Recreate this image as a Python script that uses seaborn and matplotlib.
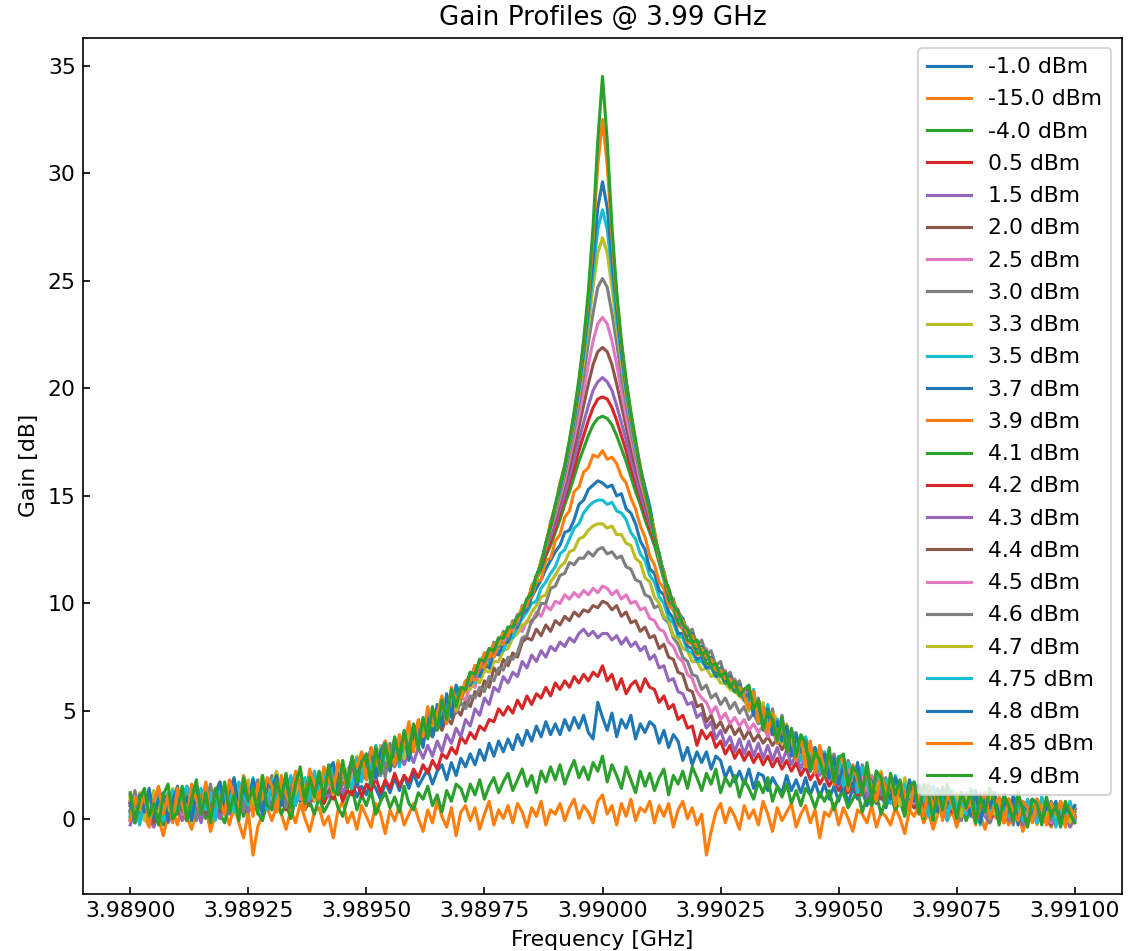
import numpy as np
import matplotlib
matplotlib.use("Agg")
import matplotlib.pyplot as plt
from matplotlib.ticker import FixedLocator, FormatStrFormatter
import seaborn as sns

# ---------------------------------------------------------------------------
# Frequency sweep (GHz): 201 points, 3.98900 .. 3.99100
freq_start_ghz = 3.98900
freq_stop_ghz = 3.99100
n_points = 201

x_ticks = [3.98900, 3.98925, 3.98950, 3.98975, 3.99000,
           3.99025, 3.99050, 3.99075, 3.99100]

# Gain values, in tenths of a dB (left -> right)
gain_m1p0 = [
 7,1,5,9,2,8,3,10,6,1, 9,4,2,8,6,10,3,7,11,5, 2,9,4,10,6,3,11,8,5,12, 4,10,7,13,5,11,8,14,6,12,
 15,7,13,10,16,9,14,17,10,15, 11,18,14,9,17,12,19,13,20,14, 21,15,19,23,16,22,25,18,26,20,
 28,24,30,25,32,27,35,29,36,31, 37,32,39,34,41,36,43,38,45,39, 44,39,46,41,47,42,48,40,37,54,
 47,
 41,49,38,46,42,48,37,44,40,45, 43,35,41,33,39,36,27,33,25,31, 26,31,23,29,27,19,24,17,22,16,
 23,14,21,20,13,19,15,12,20,13, 18,12,19,11,17,10,16,9,15,8, 16,7,14,9,13,6,14,7,12,5,
 12,6,13,4,11,5,12,3,10,4, 11,3,9,2,10,4,8,1,9,2, 8,1,7,2,8,0,6,1,7,-1, 6,0,5,1,6,-2,4,0,5,-1]

gain_m15p0 = [
 3,-2,5,1,-4,6,0,-8,2,4, -3,7,1,-5,3,-1,5,-6,2,0, 4,-3,6,-2,-9,3,-17,-4,2,5, -1,6,2,-5,4,-2,7,0,-6,3,
 5,-3,1,-9,4,8,-2,3,-5,6, 1,-4,7,2,-7,4,-1,6,-3,2, 7,0,-6,4,-2,8,1,-4,5,-8,
 3,6,-1,5,-5,2,8,-3,4,0, 6,-2,7,3,-4,5,1,8,-3,4, 2,7,-1,5,9,0,6,3,-2,8,
 11,
 2,6,-3,7,1,9,-1,5,3,8, -2,6,1,7,-4,4,8,0,5,-3, 2,-17,-6,3,7,-2,5,1,-5,6,
 0,4,-3,8,2,-6,5,-1,3,7, -4,2,6,-2,4,-9,3,1,7,-3, 5,0,-6,4,2,-2,6,-4,3,1,
 -3,5,0,-7,4,1,6,-2,3,-5, 2,5,-1,4,-4,3,0,6,-2,2, -5,3,1,-1,5,-3,2,4,-6,1, 3,-2,5,0,-4,2,6,-1,1,4]

gain_m4p0 = [
 0,7,-2,5,9,1,6,-3,8,3, 10,2,-1,7,4,11,0,6,9,2, -2,8,4,10,1,7,12,3,-1,8, 5,11,2,7,0,9,13,4,8,2,
 10,3,7,12,5,1,9,14,4,11, 6,13,2,8,12,5,10,3,15,7, 4,12,9,15,6,11,3,13,8,16,
 14,8,16,11,18,9,15,19,12,17, 21,13,18,23,15,20,12,22,17,24, 18,25,16,22,27,19,24,18,26,22,
 29,
 17,25,20,14,24,18,12,22,15,21, 13,19,23,11,20,16,22,14,24,19, 13,21,16,23,12,19,15,20,10,18,
 14,9,17,12,19,8,15,10,16,7, 13,6,14,11,5,12,8,13,4,10, 12,5,9,13,3,10,6,11,2,9,
 11,4,8,1,10,5,7,0,9,3, 8,1,6,10,2,7,-1,5,8,0, 6,-2,5,8,1,4,-1,7,2,0, 5,-2,3,6,-1,4,1,-3,3,0]

gain_0p5 = [
 8,1,6,3,9,2,7,4,10,3, 8,5,2,9,6,11,3,8,4,10, 7,12,5,9,3,10,6,11,4,8, 12,6,9,4,11,7,13,5,10,8,
 14,7,12,9,15,8,13,11,17,10, 16,13,19,12,18,14,21,15,20,17, 23,19,25,21,27,23,30,28,33,30,
 38,35,40,37,43,41,46,45,51,48, 52,49,55,51,57,53,58,56,61,57, 63,60,64,61,66,63,67,64,68,66,
 71,
 64,67,60,65,58,62,64,59,65,61, 60,54,57,51,53,46,48,42,43,34, 41,37,40,33,36,30,34,28,32,27,
 31,26,30,25,29,24,28,23,27,22, 26,20,24,18,22,16,20,15,19,13, 18,12,17,11,16,10,15,9,14,8,
 13,7,12,6,13,5,11,6,10,4, 11,5,9,3,10,4,8,2,9,3, 8,2,7,1,8,2,6,0,7,1, 6,0,7,1,5,-1,6,0,5,1]

gain_1p5 = [
 -3,4,-1,6,0,-4,3,5,-2,2, 7,-1,4,1,6,-2,8,3,5,0, 9,2,6,4,10,3,7,9,5,11, 6,4,10,8,12,7,13,9,8,14,
 12,15,10,16,18,12,17,20,15,22, 19,23,18,24,21,
 29,24,30,25,31,26,33,28,34,29, 36,31,39,35,42,38,46,43,51,48, 56,53,61,59,66,63,68,66,73,70,
 76,73,78,75,80,78,82,80,84,82, 86,88,85,87,84,
 86,
 86,83,85,81,84,80,82,78,80,74, 76,70,71,64,65,59,58,53,54,47, 49,42,45,37,41,34,38,31,37,30,
 36,29,35,28,34,27,33,26,32,25, 30,23,29,22,27,
 20,25,18,23,15,21,14,19,12,17, 10,16,9,15,7,13,8,12,5,11, 9,4,10,6,2,7,5,1,6,3,
 0,5,2,-1,4,1,-2,3,0,5, -1,2,4,-3,1,3,-2,2,0,-3, 2,-1,1,-4,0]

gain_2p0 = [
 -1,5,0,7,3,-2,6,1,4,8, 2,6,-1,7,4,9,2,5,8,3, 7,10,4,8,3,9,6,11,5,8, 12,7,10,5,13,9,11,8,14,10,
 9,15,12,17,13,16,20,15,19,22, 18,24,21,20,26,23,29,25,32,29,
 33,38,36,41,38,45,41,47,44,51, 48,55,52,59,57,64,61,70,67,74, 71,77,75,82,84,83,88,85,90,87,
 92,90,94,92,96,94,97,96,99,98,
 101,
 100,97,99,94,96,91,92,87,89,84, 85,79,81,75,74,68,67,60,59,52, 53,45,48,42,45,40,44,39,42,37,
 41,36,39,35,38,34,37,32,36,31,
 28,33,26,30,22,27,20,25,18,23, 16,21,14,19,12,17,11,16,9,14, 13,8,12,7,13,6,11,5,10,4,
 9,2,8,3,7,1,6,2,5,0, 6,-1,4,3,-2,5,1,2,-1,4, 3,-2,2,4,-3,3,0,2,-2,1]

gain_2p5 = [
 6,0,7,2,5,8,1,3,9,4, 7,2,8,5,10,3,6,9,4,8, 11,5,7,10,4,12,8,6,11,9, 13,7,10,12,8,14,9,13,11,15,
 12,17,14,13,19,16,18,22,17,23, 21,19,25,22,27,24,30,27,33,30,
 38,35,41,40,45,43,49,46,52,50, 57,55,62,61,69,68,75,76,82,80, 85,84,88,87,92,91,96,94,99,97,
 101,100,104,102,105,103,106,104,107,105,
 108,
 107,104,106,102,104,100,101,97,98,93, 92,88,87,82,80,75,73,67,65,59, 56,54,49,52,46,49,44,47,43,46,
 41,44,40,43,38,41,35,38,33,36,
 35,28,33,25,29,22,27,20,25,18, 23,16,21,15,19,13,18,11,17,10, 15,9,14,8,14,7,13,6,12,5,
 10,4,9,3,10,2,8,6,3,9, 2,7,5,1,8,4,0,7,3,6, -1,5,2,4,-2,6,1,3,0,4]

gain_3p0 = [
 1,8,3,6,9,2,7,4,10,6, 3,9,5,11,7,4,10,8,5,12, 7,10,4,11,8,13,6,9,12,7, 14,8,11,13,9,15,12,10,16,11,
 17,13,15,18,14,20,16,21,19,24, 20,25,23,28,26,25,32,28,34,31,
 37,34,40,39,44,42,47,45,51,49, 54,51,57,56,61,59,66,64,70,69, 75,74,77,84,85,92,94,100,100,107,
 108,113,114,119,118,121,121,124,122,125,
 126,
 123,124,121,122,117,116,111,110,104,103, 98,99,93,91,84,81,75,73,67,66, 60,62,56,58,53,56,51,54,49,52,
 46,49,44,47,41,44,38,41,35,37,
 30,35,27,31,25,29,22,27,20,24, 18,23,17,21,14,19,13,18,11,16, 10,15,9,14,8,13,7,14,12,7,
 11,4,9,10,3,8,6,4,9,3, 8,2,7,5,1,9,4,2,7,3, 6,0,5,4,-1,6,2,3,5,0]

gain_3p3 = [
 10,5,8,3,7,11,4,6,9,2, 8,11,5,9,7,12,10,4,9,13, 7,11,9,6,13,10,12,8,11,14, 9,13,10,15,11,9,14,12,15,11,
 16,13,18,14,19,16,17,22,19,23, 20,25,23,24,28,25,29,30,28,33, 35,34,40,38,42,43,47,46,51,52,
 55,60,60,65,63,69,68,73,73,78, 79,84,86,90,91,96,99,103,104,110, 113,117,119,124,125,130,131,134,136,137,
 137,
 135,136,132,132,128,127,121,119,112,110, 103,100,94,92,85,84,79,78,73,73, 69,70,66,67,63,63,60,59,57,55,
 51,55,47,48,43,44,38,40,36,33, 34,30,31,26,29,25,23,27,21,22, 19,22,17,20,15,18,17,13,16,12,
 15,11,14,9,13,10,12,8,11,8, 9,5,8,7,4,9,6,3,8,5, 7,4,6,2,7,5,3,6,1,5, 4,2,5,0,4,3,1,5,2,0]

gain_3p5 = [
 2,8,5,11,7,4,9,6,12,8, 5,10,7,13,9,6,11,14,8,10, 12,9,14,7,11,13,10,15,9,13, 11,14,9,12,16,13,17,11,15,13,
 17,14,19,17,15,20,23,18,22,25, 21,27,24,26,30,28,29,34,32,35, 37,40,38,45,42,47,50,48,55,54,
 59,61,64,63,70,70,73,75,78,78, 83,84,89,93,96,100,101,107,110,114, 117,123,125,130,135,137,142,145,147,148,
 148,
 146,147,143,142,139,133,130,123,120,113, 110,103,100,93,91,85,84,78,77,73, 73,70,70,66,67,63,64,59,60,56,
 58,50,52,51,44,47,40,43,37,38, 35,30,33,31,26,30,24,27,25,20, 23,21,17,22,16,20,14,19,12,17,
 15,14,10,16,11,12,15,8,13,10, 8,11,6,9,10,5,8,9,4,7, 10,5,6,8,3,9,4,5,7,2, 6,5,1,7,2,5,4,0,5,3]

gain_3p7 = [
 6,11,4,8,2,9,7,10,5,3, 9,6,11,8,12,7,5,10,8,12, 10,6,13,9,12,8,14,10,7,12, 15,9,13,11,15,10,14,12,16,18,
 12,17,14,18,16,20,21,18,24,21, 24,21,28,25,27,31,28,33,34,31, 38,36,42,39,46,43,48,53,50,57,
 56,62,62,67,66,72,70,77,76,82, 82,88,89,95,97,103,107,111,116,120, 124,127,133,134,139,146,148,153,155,157,
 156,
 154,155,150,151,144,142,137,129,125,116, 114,106,104,96,93,86,86,80,79,74, 75,70,71,66,68,63,64,59,61,55,
 53,55,48,51,43,46,43,37,41,37, 33,34,29,33,26,29,27,22,26,23, 21,23,17,21,19,15,20,13,18,14,
 13,17,11,15,9,14,12,11,14,7, 10,8,5,10,9,4,10,6,8,5, 9,3,7,6,4,8,2,7,6,3, 7,2,4,6,1,6,3,5,0,4]

gain_3p9 = [
 9,4,7,2,10,6,5,11,3,8, 10,7,12,5,8,4,11,9,13,7, 6,12,8,14,10,11,7,13,9,14, 10,13,16,8,12,15,11,16,13,11,
 16,14,18,21,16,19,17,23,20,24, 22,26,24,27,31,26,30,33,30,36, 34,39,43,41,43,47,50,49,54,55,
 60,59,66,64,72,70,77,75,81,81, 88,87,94,95,102,103,110,111,120,121, 129,132,140,143,152,154,161,163,169,168,
 171,
 167,168,165,159,156,149,144,136,131,122, 118,110,107,99,97,90,88,82,81,76, 77,72,72,68,69,64,65,60,61,56,
 55,52,53,47,47,44,41,42,38,35, 36,32,30,32,27,29,26,23,26,21, 23,22,18,21,15,18,19,14,17,12,
 15,13,16,11,14,10,15,9,12,10, 7,10,8,6,11,5,9,8,4,9, 8,4,9,5,3,8,6,2,7,5, 6,1,6,4,2,6,5,1,4,3]

gain_4p1 = [
 3,9,6,10,4,7,1,8,11,5, 9,12,6,4,10,8,14,9,6,11, 13,7,12,10,6,14,9,11,15,8, 12,16,10,13,8,14,17,11,13,18,
 13,16,20,15,18,23,17,21,25,19, 24,27,22,29,25,32,28,35,31,35, 38,39,42,38,47,45,47,54,51,55,
 59,62,67,68,73,75,78,80,82,85, 87,90,93,97,101,106,111,116,122,127, 133,139,146,152,159,166,172,178,183,186,
 187,
 186,183,178,172,166,159,152,146,139,133, 127,119,111,102,98,91,89,83,82,77, 77,72,72,67,67,63,63,59,60,56,
 54,56,49,48,47,42,44,39,40,34, 36,32,31,30,29,25,27,24,26,20, 24,19,22,18,19,17,15,18,14,15,
 16,11,16,12,10,14,13,9,14,7, 9,10,6,11,7,8,9,4,9,6, 5,9,4,8,6,3,7,5,4,8, 3,6,2,7,3,4,6,1,5,2]

gain_4p2 = [
 7,3,9,5,2,8,11,6,4,10, 6,12,9,3,8,11,7,10,4,13, 8,10,13,7,11,9,14,12,8,10, 14,11,9,15,12,10,16,13,17,12,
 14,19,15,18,14,21,19,23,20,22, 25,21,27,24,30,29,26,33,31,36, 35,40,37,44,41,48,45,51,52,56,
 57,63,64,71,70,76,77,81,81,86, 86,90,93,97,101,106,112,118,123,129, 135,142,149,156,163,171,178,185,191,195,
 196,
 195,191,185,178,171,163,156,149,142,135, 129,123,112,106,99,97,89,88,83,81, 77,77,72,71,66,68,62,64,59,58,
 54,55,47,51,49,40,45,43,35,39, 37,29,35,32,25,31,27,21,28,23, 18,24,20,15,22,17,13,20,16,11,
 18,13,10,16,9,15,13,8,14,10, 7,12,9,3,11,8,5,10,4,9, 6,3,10,4,8,7,1,9,5,2, 7,4,1,8,3,2,6,-1,4,5]

gain_4p3 = [
 4,8,10,2,6,9,5,11,7,3, 10,8,4,11,9,13,6,8,12,5, 11,14,7,10,8,13,11,6,14,12, 8,12,15,10,13,9,16,15,11,14,
 18,12,16,20,14,17,22,18,21,26, 20,25,22,29,24,31,28,30,35,32, 39,36,44,40,42,49,46,53,49,58,
 60,60,68,66,74,73,79,78,83,84, 88,89,93,97,101,106,112,119,125,131, 137,144,151,159,167,176,184,192,199,203,
 205,
 203,199,192,184,176,167,159,151,144,137, 131,123,112,107,99,96,90,88,83,82, 77,77,72,71,67,67,63,63,59,59,
 57,50,49,53,42,47,45,37,40,39, 30,37,28,33,30,24,30,22,27,19, 25,18,24,17,20,21,14,19,12,18,
 11,17,13,9,16,12,8,14,10,13, 6,9,12,4,10,7,5,11,3,8, 10,2,7,6,1,9,4,6,3,8, 2,6,3,-1,7,2,4,5,0,3]

gain_4p4 = [
 11,5,8,3,9,6,12,4,8,7, 3,10,8,12,5,9,7,11,13,6, 9,11,6,14,12,8,10,13,7,15, 13,9,14,11,8,15,14,10,17,12,
 15,19,13,17,21,16,20,17,23,24, 19,26,27,23,28,31,26,33,30,37, 33,38,42,40,45,43,51,48,56,53,
 56,63,67,68,71,76,76,81,81,86, 86,91,93,96,101,106,112,119,126,133, 139,147,155,163,172,182,192,202,211,217,
 219,
 217,211,202,192,182,172,163,155,147,139, 132,122,114,104,101,94,92,85,86,80, 79,75,74,70,67,67,63,63,59,59,
 60,49,55,50,42,48,44,36,43,34, 32,36,34,25,32,29,23,29,21,24, 27,17,22,20,14,21,18,11,19,15,
 13,18,10,16,12,14,7,15,11,9, 13,5,8,11,4,10,7,3,12,6, 5,10,6,2,11,4,7,8,1,6, 9,0,4,7,2,6,-1,5,3,1]

gain_4p5 = [
 6,10,3,8,5,11,9,2,7,12, 9,4,10,12,6,8,13,10,5,11, 14,8,6,12,10,15,9,7,13,11, 9,14,11,16,10,13,17,12,16,11,
 17,12,15,19,14,22,17,20,25,20, 23,28,21,27,30,25,32,29,36,31, 37,42,37,41,47,43,49,54,50,58,
 60,60,67,68,73,73,79,78,84,83, 89,88,95,95,101,106,112,119,127,134, 141,149,157,167,177,187,199,211,222,230,
 233,
 230,222,211,199,187,177,167,157,149,141, 131,123,111,107,98,96,89,89,82,83, 76,79,71,72,66,69,62,65,58,60,
 54,55,48,52,45,42,46,38,39,37, 31,36,28,33,26,30,23,28,22,25, 18,24,17,22,19,14,20,13,17,12,
 16,12,15,10,14,9,16,8,13,7, 12,6,11,5,10,4,12,5,9,6, 10,2,9,4,8,3,9,2,8,1, 7,3,6,1,7,0,5,2,6,0]

gain_4p6 = [
 4,13,-1,9,11,2,14,6,0,12, 9,3,15,10,-1,13,7,16,4,11, 14,5,17,12,3,15,9,18,7,14, 20,8,16,5,19,13,22,10,17,21,
 12,23,18,14,26,16,21,28,15,25, 30,22,27,33,19,35,26,38,31,36, 43,37,41,48,39,51,45,54,49,60,
 55,64,63,71,69,77,74,82,80,87, 84,92,90,99,98,108,112,119,127,136, 143,151,160,170,181,193,206,221,235,247,
 251,
 247,235,221,206,193,181,170,160,151,142, 132,122,113,106,100,96,93,86,88,80, 83,76,78,71,73,65,68,62,64,56,
 55,49,56,45,41,51,38,48,35,39, 40,27,37,31,24,33,28,20,30,23, 17,27,21,13,25,18,10,22,16,19,
 8,18,13,4,17,11,14,3,16,9, 12,1,13,7,10,-1,11,5,2,12, 6,-2,10,3,8,5,-3,9,1,7, 0,6,4,-2,8,2,5,-1,7,1]

gain_4p7 = [
 10,2,12,-1,6,13,3,9,0,14, 4,12,8,-2,15,7,11,1,13,17, 6,14,2,16,10,18,5,13,20,7, 16,22,10,13,19,6,21,14,18,8,
 20,13,24,11,27,18,23,15,29,21, 26,31,20,34,28,25,37,32,28,40, 38,44,35,49,41,46,53,48,57,50,
 58,63,65,69,72,74,78,80,81,86, 86,90,92,98,100,107,111,119,127,137, 144,153,162,172,184,197,212,229,247,263,
 270,
 263,247,229,212,197,184,172,162,153,144, 132,122,114,105,101,95,92,86,84,81, 79,75,74,70,69,65,65,62,60,57,
 50,57,45,54,41,49,46,35,44,32, 38,28,35,33,24,31,21,29,26,17, 28,14,23,19,11,25,16,13,22,8,
 18,14,6,19,10,15,4,16,9,13, 2,15,8,5,12,1,10,6,13,-1, 8,11,2,9,-2,7,10,0,6,3, 7,-3,9,1,5,-1,8,4,-2,6]

gain_4p75 = [
 1,9,-3,8,12,2,10,-1,7,13, 3,11,15,0,9,14,4,12,-1,16, 8,13,3,17,11,6,19,9,14,4, 18,7,16,12,20,6,15,19,9,22,
 11,21,16,25,12,24,19,14,28,17, 29,23,34,20,32,27,37,24,39,33, 40,34,46,39,42,50,45,54,51,59,
 59,61,67,68,73,74,78,79,83,85, 88,90,93,97,100,106,111,120,127,137, 145,153,163,173,185,199,215,233,254,274,
 283,
 274,254,233,215,199,185,173,163,153,145, 131,123,112,106,100,96,90,88,83,82, 77,77,72,71,67,67,63,63,59,58,
 54,60,47,44,53,39,46,42,33,41, 36,27,38,30,33,22,31,25,18,29, 15,26,21,12,24,17,9,22,14,18,
 7,20,12,16,4,17,10,13,1,15, 8,11,-1,13,5,9,2,14,6,-3, 10,3,12,-2,7,1,11,4,-1,9, 3,-2,10,4,7,-4,6,2,8,-1]

gain_4p8 = [
 7,-2,11,3,14,0,9,12,-1,8, 15,4,10,-1,13,6,16,2,11,17, 5,13,19,3,15,8,18,11,2,17, 14,20,6,17,9,21,15,8,22,12,
 19,10,23,26,13,22,18,28,15,30, 24,33,19,31,36,22,35,29,40,27, 39,45,33,49,38,53,43,58,47,62,
 57,63,65,70,71,75,78,79,83,84, 88,89,94,95,102,104,113,117,128,136, 145,154,163,174,186,200,217,237,260,284,
 296,
 284,260,237,217,200,186,174,163,154,145, 133,120,115,104,102,93,93,85,86,79, 80,74,75,68,70,64,66,60,62,56,
 58,48,54,42,51,39,45,36,43,29, 39,31,36,22,33,26,30,19,28,16, 25,19,14,26,12,22,17,8,20,13,
 9,19,14,5,18,8,15,2,13,9, 3,14,7,11,-1,12,6,2,13,-2, 9,5,12,-1,8,3,10,-3,7,4, 1,9,-2,6,3,8,-3,5,2,6]

gain_4p85 = [
 -1,10,4,13,-3,8,15,2,11,-2, 14,6,-1,16,9,3,17,0,12,8, 2,18,10,5,20,13,1,16,9,19, 15,3,20,11,7,22,13,4,23,16,
 9,24,18,12,26,21,14,28,24,31, 18,33,27,22,36,30,25,39,34,45, 31,46,38,52,43,49,57,44,61,55,
 56,64,64,71,70,77,75,81,82,86, 85,91,92,98,99,108,111,120,126,138, 145,156,164,175,188,203,221,242,270,304,
 325,
 304,270,242,221,203,188,175,164,151,142, 134,121,114,105,101,94,92,86,85,80, 79,75,74,69,69,65,65,61,61,57,
 51,59,45,52,40,49,35,46,31,41, 27,38,24,36,21,34,19,31,16,28, 27,13,25,18,11,23,15,8,21,12,
 20,6,17,12,3,16,10,1,14,5, 13,-1,11,7,-2,12,4,9,-3,8, 12,0,6,10,-2,9,3,-1,8,5, -2,9,4,-3,7,2,8,-4,5,1]

gain_4p9 = [
 12,-2,9,14,1,7,-3,11,16,0, 3,15,-1,9,18,2,12,-2,14,5, 17,3,11,-1,19,8,14,2,20,6, 4,18,9,21,5,16,24,7,19,10,
 22,9,25,13,11,27,14,29,17,26, 30,15,33,21,35,24,38,27,41,30, 44,32,47,37,52,41,55,46,60,52,
 61,60,68,67,74,73,79,78,84,84, 89,89,94,96,102,105,113,118,128,136, 146,155,164,176,189,204,222,245,275,315,
 345,
 315,275,245,222,204,189,176,163,152,143, 131,123,112,107,99,96,90,88,82,83, 76,78,71,72,66,68,61,64,57,60,
 62,51,55,41,50,46,36,47,31,42, 29,39,35,22,31,27,19,33,17,28, 30,15,24,21,11,26,8,22,19,6,
 21,11,18,3,15,17,2,16,12,-1, 14,4,16,9,0,12,5,13,-2,10, 3,14,8,-3,11,6,-1,12,4,-4, 9,7,-3,10,1,6,-4,8,2,-2]

series_labels = ["-1.0 dBm", "-15.0 dBm", "-4.0 dBm", "0.5 dBm", "1.5 dBm", "2.0 dBm",
                 "2.5 dBm", "3.0 dBm", "3.3 dBm", "3.5 dBm", "3.7 dBm", "3.9 dBm",
                 "4.1 dBm", "4.2 dBm", "4.3 dBm", "4.4 dBm", "4.5 dBm", "4.6 dBm",
                 "4.7 dBm", "4.75 dBm", "4.8 dBm", "4.85 dBm", "4.9 dBm"]
series_values = [gain_m1p0, gain_m15p0, gain_m4p0, gain_0p5, gain_1p5, gain_2p0,
                 gain_2p5, gain_3p0, gain_3p3, gain_3p5, gain_3p7, gain_3p9,
                 gain_4p1, gain_4p2, gain_4p3, gain_4p4, gain_4p5, gain_4p6,
                 gain_4p7, gain_4p75, gain_4p8, gain_4p85, gain_4p9]

# ---------------------------------------------------------------------------
plt.rcParams["xtick.direction"] = "in"
plt.rcParams["ytick.direction"] = "in"
plt.rcParams["font.family"] = ["DejaVu Sans"]
plt.rcParams["font.size"] = 10.5

freq = np.linspace(freq_start_ghz, freq_stop_ghz, n_points)
palette = sns.color_palette("tab10", 10)

fig = plt.figure(figsize=(1133 / 150, 951 / 150), dpi=150)
ax = fig.add_axes([83 / 1133, 1 - 894 / 951, (1122 - 83) / 1133, (894 - 37.5) / 951])

for k, (lab, vals) in enumerate(zip(series_labels, series_values)):
    g = np.asarray(vals, dtype=float) / 10.0
    if len(g) != n_points:
        raise ValueError(f"{lab}: {len(g)} points")
    sns.lineplot(x=freq, y=g, ax=ax, color=palette[k % 10], label=lab,
                 linewidth=1.5, estimator=None, sort=False)

ax.xaxis.set_major_locator(FixedLocator(x_ticks))
ax.xaxis.set_major_formatter(FormatStrFormatter("%.5f"))
ax.set_xlabel("Frequency [GHz]", fontsize=10.5)
ax.set_ylabel("Gain [dB]", fontsize=10.5)
ax.set_title("Gain Profiles @ 3.99 GHz", fontsize=12.6)
ax.legend(loc="upper right", fontsize=10.5, labelspacing=0.56)

fig.savefig("out.png", dpi=150)
